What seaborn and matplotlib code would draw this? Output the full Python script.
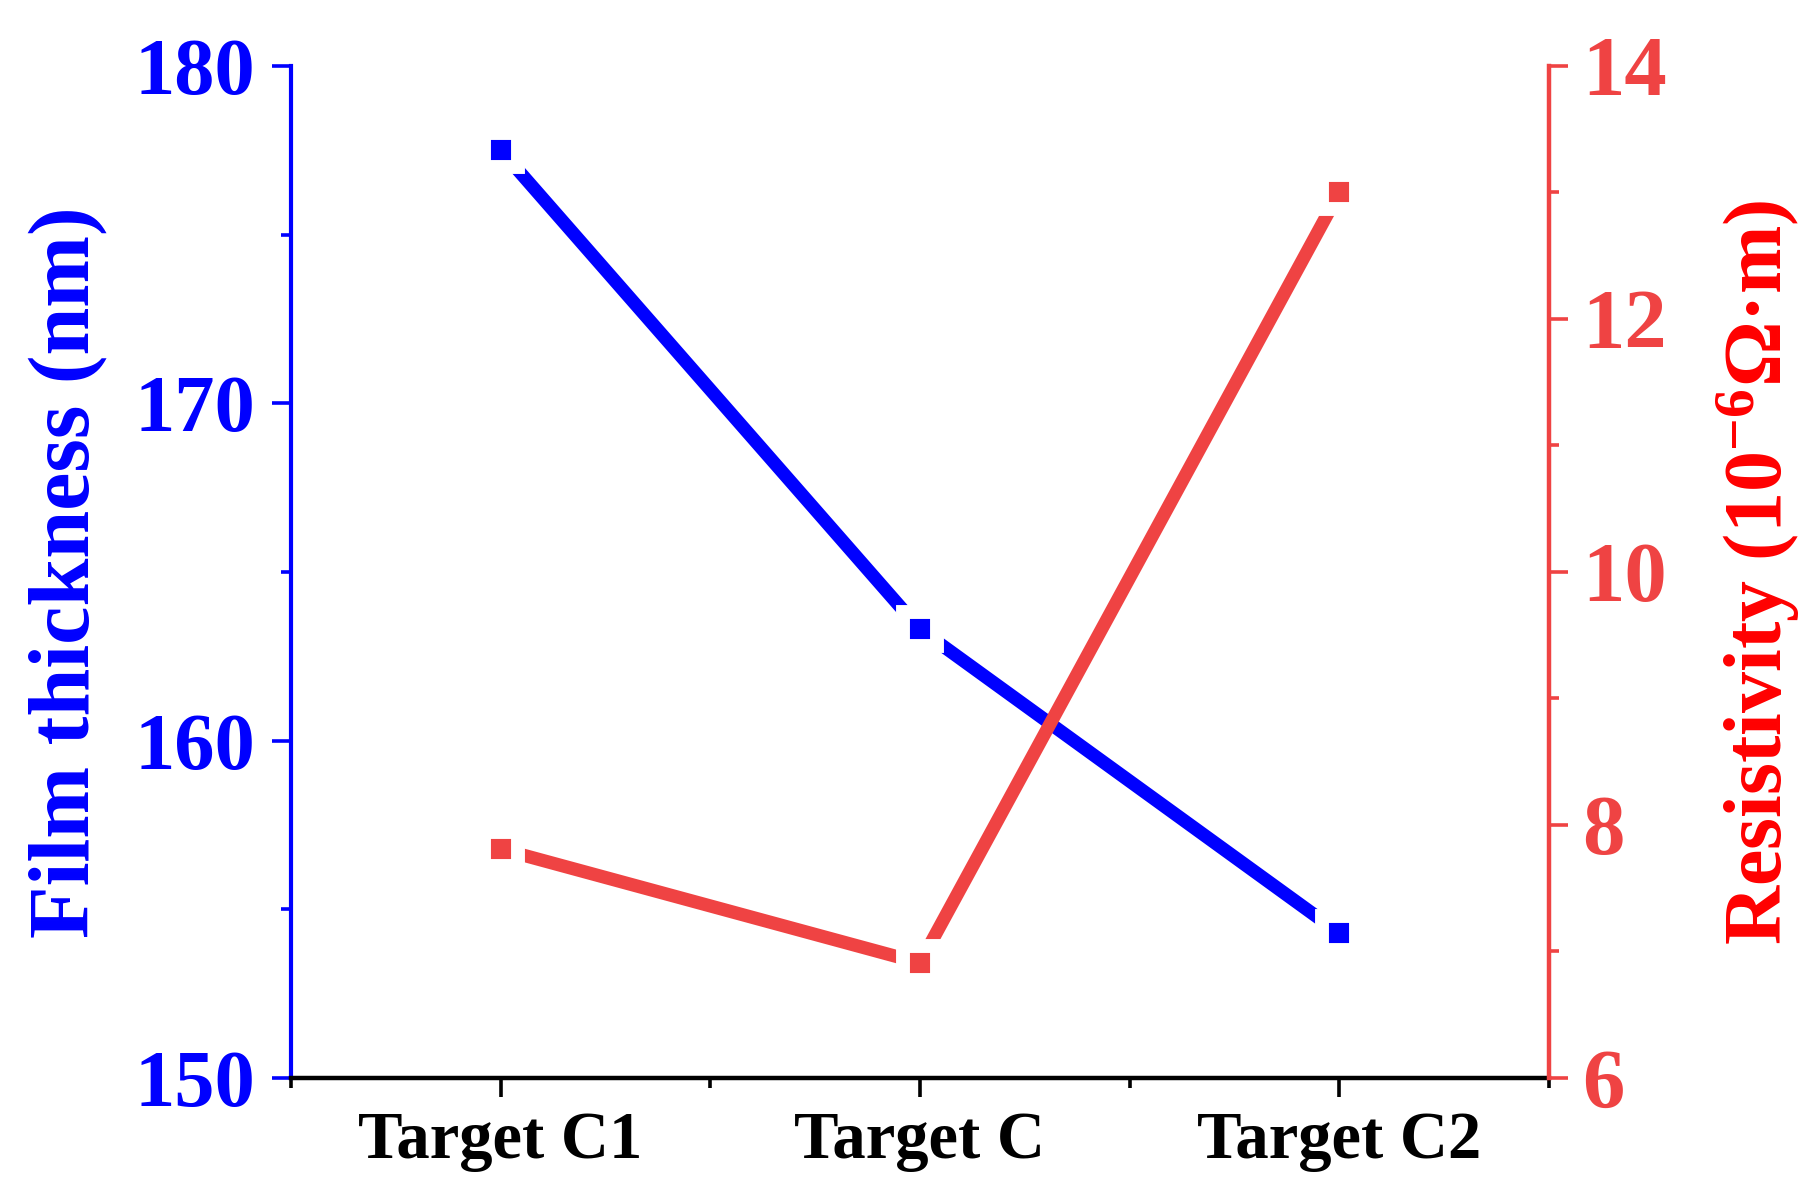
import numpy as np
import pandas as pd
import matplotlib
matplotlib.use('Agg')
import matplotlib.pyplot as plt
import seaborn as sns
from matplotlib.ticker import MultipleLocator, FixedLocator

# Data
targets = ['Target C1', 'Target C', 'Target C2']
thickness = [177.5, 163.3, 154.3]      # nm
resistivity = [7.81, 6.91, 13.0]       # 10^-6 ohm*m

blue = '#0000FF'
red = '#EF4343'

sns.set_theme(style='ticks')
plt.rcParams['font.family'] = ['Liberation Serif', 'DejaVu Serif']
plt.rcParams['font.weight'] = 'bold'
plt.rcParams['mathtext.fontset'] = 'custom'
plt.rcParams['mathtext.rm'] = 'Liberation Serif:bold'
plt.rcParams['mathtext.it'] = 'Liberation Serif:bold'
plt.rcParams['mathtext.bf'] = 'Liberation Serif:bold'

df = pd.DataFrame({'target': targets, 'thickness': thickness, 'resistivity': resistivity})

fig = plt.figure(figsize=(18.11, 11.93), dpi=100)
ax = fig.add_axes([0.1607, 0.0964, 0.6946, 0.8483])
ax2 = ax.twinx()

# white marker edge gives the Origin-like gap between line and symbol
line_kw = dict(lw=9.5, marker='s', markersize=24, markeredgecolor='white',
               markeredgewidth=10, sort=False)
sns.lineplot(data=df, x='target', y='thickness', ax=ax, color=blue, **line_kw)
sns.lineplot(data=df, x='target', y='resistivity', ax=ax2, color=red, **line_kw)

# axes limits and ticks
ax.set_xlim(-0.5, 2.5)
ax.set_ylim(150, 180)
ax2.set_ylim(6, 14)
ax.yaxis.set_major_locator(MultipleLocator(10))
ax.yaxis.set_minor_locator(MultipleLocator(5))
ax2.yaxis.set_major_locator(MultipleLocator(2))
ax2.yaxis.set_minor_locator(MultipleLocator(1))
ax.xaxis.set_minor_locator(FixedLocator(np.arange(len(targets) + 1) - 0.5))

# spines
for s in ['top', 'right']:
    ax.spines[s].set_visible(False)
for s in ['top', 'left', 'bottom']:
    ax2.spines[s].set_visible(False)
ax.spines['left'].set_color(blue)
ax.spines['left'].set_linewidth(3)
ax.spines['bottom'].set_color('black')
ax.spines['bottom'].set_linewidth(3.2)
ax2.spines['right'].set_color(red)
ax2.spines['right'].set_linewidth(3.2)

ax.tick_params(axis='y', which='both', colors=blue, width=2.6, direction='out')
ax.tick_params(axis='y', which='major', length=14, labelsize=58, pad=12)
ax.tick_params(axis='y', which='minor', length=7)
ax.tick_params(axis='x', which='both', colors='black', width=2.6, direction='out')
ax.tick_params(axis='x', which='major', length=14, labelsize=48, pad=10)
ax.tick_params(axis='x', which='minor', length=7)
ax2.tick_params(axis='y', which='both', colors=red, width=2.6, direction='out')
ax2.tick_params(axis='y', which='major', length=14, labelsize=61, pad=10)
ax2.tick_params(axis='y', which='minor', length=7)

for lab in ax.get_xticklabels() + ax.get_yticklabels() + ax2.get_yticklabels():
    lab.set_fontweight('bold')

ax.set_xlabel('')
ax.set_ylabel('Film thickness (nm)', color=blue, fontsize=62, fontweight='bold')
ax2.set_ylabel('Resistivity (10$^{-6}$Ω·m)', color='red', fontsize=59,
               fontweight='bold')
ax.yaxis.set_label_coords(-0.146, 0.5)
ax2.yaxis.set_label_coords(1.132, 0.5)

ax.grid(False)
ax2.grid(False)

fig.savefig('out.png', dpi=100, facecolor='white')
